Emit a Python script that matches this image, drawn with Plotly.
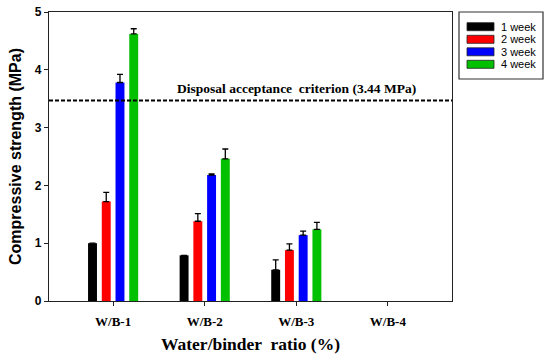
import plotly.graph_objects as go

categories = ["W/B-1", "W/B-2", "W/B-3", "W/B-4"]
series_names = ["1 week", "2 week", "3 week", "4 week"]
week1 = [1.00, 0.79, 0.54, None]
week2 = [1.72, 1.38, 0.88, None]
week3 = [3.78, 2.18, 1.14, None]
week4 = [4.62, 2.46, 1.24, None]
err1 = [0.0, 0.0, 0.17, 0.0]
err2 = [0.16, 0.13, 0.11, 0.0]
err3 = [0.14, 0.02, 0.07, 0.0]
err4 = [0.09, 0.17, 0.12, 0.0]
criterion = 3.47
criterion_label = "Disposal acceptance  criterion (3.44 MPa)"
colors = ["#000000", "#ff0000", "#0000ff", "#00c000"]

values = [week1, week2, week3, week4]
errors = [err1, err2, err3, err4]

W, H = 550, 356
L, R, T, B = 49, 452, 12, 301

def px(x):
    return (x - L) / (R - L)

def py(y):
    return (B - y) / (B - T)

fig = go.Figure()
for name, vals, errs, col in zip(series_names, values, errors, colors):
    fig.add_trace(go.Bar(
        x=categories, y=vals, name=name,
        marker=dict(color=col, line=dict(width=0)),
        error_y=dict(type="data", array=errs, arrayminus=[0]*len(errs),
                     symmetric=False, color="#000000", thickness=1.3, width=3),
        showlegend=False, hoverinfo="skip",
    ))

fig.add_shape(type="line", xref="paper", yref="y", x0=0, x1=1,
              y0=criterion, y1=criterion,
              line=dict(color="#000000", width=2, dash="4px,2px"))
fig.add_annotation(text="<b>" + criterion_label + "</b>", xref="paper", yref="paper",
                   x=px(296), y=py(88), xanchor="center", yanchor="middle",
                   showarrow=False,
                   font=dict(family="Liberation Serif", size=13.5, color="#000000"))

# legend box
fig.add_shape(type="rect", xref="paper", yref="paper",
              x0=px(459), x1=px(543), y0=py(12), y1=py(79),
              line=dict(color="#333333", width=1.2), fillcolor="white")
row_y = [26.7, 39.3, 51.8, 64.3]
for name, col, yy in zip(series_names, colors, row_y):
    fig.add_shape(type="rect", xref="paper", yref="paper",
                  x0=px(467), x1=px(494), y0=py(yy - 4), y1=py(yy + 4),
                  line=dict(color="#222222", width=0.8), fillcolor=col)
    fig.add_annotation(text=name, xref="paper", yref="paper",
                       x=px(500), y=py(yy), xanchor="left", yanchor="middle",
                       showarrow=False, height=12, borderpad=0,
                       font=dict(family="Liberation Sans", size=11, color="#000000"))

fig.update_layout(
    width=W, height=H, autosize=False,
    margin=dict(l=L, r=W - R, t=T, b=H - B, pad=0, autoexpand=False),
    paper_bgcolor="white", plot_bgcolor="white",
    barmode="group", bargap=0.4, bargroupgap=0.35,
    showlegend=False,
)
fig.update_xaxes(
    type="category", range=[-0.7, 3.7], automargin=False,
    showline=True, linecolor="#222222", linewidth=1.3, mirror=True,
    ticks="outside", ticklen=4, tickcolor="#222222", tickwidth=1.2,
    ticklabelstandoff=4,
    tickfont=dict(family="Liberation Serif", size=13, color="#000000"),
    tickvals=categories, ticktext=["<b>%s</b>" % c for c in categories],
    showgrid=False, zeroline=False,
    title=dict(text="<b>Water/binder  ratio (%)</b>", standoff=9,
               font=dict(family="Liberation Serif", size=17.5, color="#000000")),
)
fig.update_yaxes(
    range=[0, 5], tickvals=[0, 1, 2, 3, 4, 5], automargin=False,
    ticktext=["<b>%d</b>" % v for v in [0, 1, 2, 3, 4, 5]],
    showline=True, linecolor="#222222", linewidth=1.3, mirror=True,
    ticks="outside", ticklen=4, tickcolor="#222222", tickwidth=1.2,
    tickfont=dict(family="Liberation Sans", size=12, color="#000000"),
    showgrid=False, zeroline=False,
    title=dict(text="<b>Compressive strength (MPa)</b>", standoff=9,
               font=dict(family="Liberation Sans", size=16, color="#000000")),
)
fig.write_html("out.html", config={"displayModeBar": False},
               post_script="document.body.style.margin='0';document.body.style.overflow='hidden';")
